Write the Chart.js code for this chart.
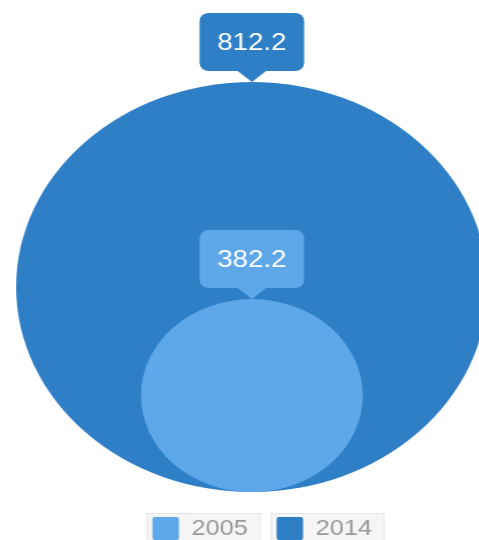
<!DOCTYPE html>
<html><head><meta charset="utf-8">
<script src="https://cdn.jsdelivr.net/npm/chart.js@4.4.1/dist/chart.umd.min.js"></script>
<style>
html,body{margin:0;padding:0;background:#fff;}
#clip{width:479px;height:540px;overflow:hidden;position:relative;}
#stretch{width:438px;height:570px;transform:scaleX(1.15);transform-origin:0 0;}
</style></head><body>
<div id="clip"><div id="stretch"><canvas id="c" width="438" height="570"></canvas></div></div>
<script>
const categories = ['2005', '2014'];
const values = [382.2, 812.2];
const colors = ['#5ea7e9', '#2f7fc7'];
const FONT = '"Liberation Sans", Arial, sans-serif';

function bubbleRadius(ctx) {
  const ys = ctx.chart.scales.y;
  const v = values[ctx.datasetIndex];
  if (!ys) return 0;
  const r = ys.getPixelForValue(0) - ys.getPixelForValue(v / 2);
  return isFinite(r) ? r : 0;
}

const calloutPlugin = {
  id: 'callouts',
  afterDatasetsDraw(chart) {
    const ctx = chart.ctx;
    chart.data.datasets.forEach((ds, i) => {
      const el = chart.getDatasetMeta(i).data[0];
      if (!el) return;
      const r = el.options.radius;
      const tipY = el.y - r;
      const x = el.x;
      const ph = 11, pw = 13.5, bw = 91, bh = 58, br = 8;
      const by = tipY - ph - bh;
      ctx.save();
      ctx.fillStyle = ds.backgroundColor;
      ctx.beginPath();
      ctx.roundRect(x - bw / 2, by, bw, bh, br);
      ctx.fill();
      ctx.beginPath();
      ctx.moveTo(x - pw, tipY - ph - 1);
      ctx.lineTo(x + pw, tipY - ph - 1);
      ctx.lineTo(x, tipY);
      ctx.closePath();
      ctx.fill();
      ctx.fillStyle = '#ffffff';
      ctx.font = '24px ' + FONT;
      ctx.textAlign = 'center';
      ctx.textBaseline = 'middle';
      ctx.fillText(values[i].toFixed(1), x, by + bh / 2 + 1);
      ctx.restore();
    });
  }
};

const legendBg = {
  id: 'legendBg',
  beforeDraw(chart) {
    const lg = chart.legend;
    if (!lg || !lg.legendHitBoxes) return;
    const ctx = chart.ctx;
    lg.legendHitBoxes.forEach(h => {
      ctx.save();
      ctx.fillStyle = '#f5f5f5';
      ctx.strokeStyle = '#e4e4e4';
      ctx.lineWidth = 1;
      ctx.fillRect(h.left - 5, h.top - 4, h.width + 15, h.height + 30);
      ctx.strokeRect(h.left - 5 + 0.5, h.top - 4 + 0.5, h.width + 15, h.height + 30);
      ctx.restore();
    });
  }
};

new Chart(document.getElementById('c'), {
  type: 'scatter',
  data: {
    datasets: categories.map((c, i) => ({
      label: c,
      data: [{ x: 0, y: values[i] / 2 }],
      backgroundColor: colors[i],
      borderColor: colors[i],
      borderWidth: 0,
      pointRadius: bubbleRadius,
      pointHoverRadius: bubbleRadius,
      pointBorderWidth: 0,
      clip: false
    }))
  },
  options: {
    responsive: false,
    animation: false,
    events: [],
    layout: { padding: { top: 82, left: 18, right: 0, bottom: 20 } },
    scales: {
      x: { type: 'linear', min: -1, max: 1.0896, display: false },
      y: { type: 'linear', min: 0, max: Math.max(...values), display: false }
    },
    plugins: {
      tooltip: { enabled: false },
      legend: {
        display: true,
        position: 'bottom',
        labels: {
          boxWidth: 23, boxHeight: 23, padding: 25, color: '#999999',
          useBorderRadius: true, borderRadius: 2,
          font: { size: 22, family: FONT }
        }
      }
    }
  },
  plugins: [legendBg, calloutPlugin]
});
</script>
</body></html>
